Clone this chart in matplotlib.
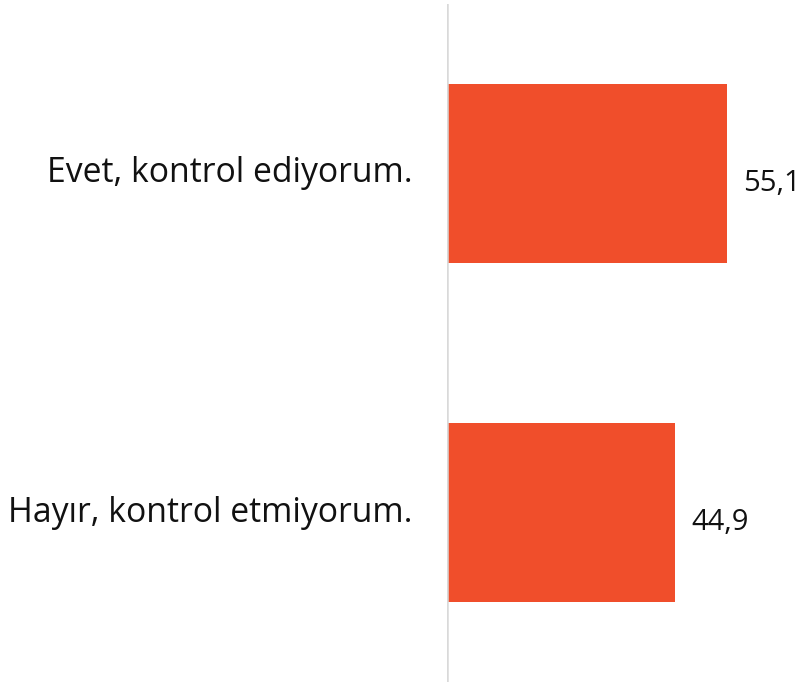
import matplotlib.pyplot as plt

categories = ['Evet, kontrol ediyorum.', 'Hayır, kontrol etmiyorum.']
values = [55.1, 44.9]
value_labels = ['55,1', '44,9']

plt.rcParams['font.family'] = ['Open Sans', 'DejaVu Sans']

fig = plt.figure(figsize=(8.05, 6.84), dpi=100)
ax = fig.add_axes([447 / 805, 2 / 684, 358 / 805, 678 / 684])

y = range(len(categories))
ax.barh(y, values, height=0.53, color='#F04E2B')
ax.set_xlim(0, 358 / 5.08)
ax.set_ylim(1.5, -0.5)

ax.axvline(0, color='#d9d9d9', linewidth=1.8)
for s in ax.spines.values():
    s.set_visible(False)
ax.set_xticks([])
ax.set_yticks([])

for i, (v, lab) in enumerate(zip(values, value_labels)):
    ax.text(v + 3.2, i + 0.03, lab, va='center', ha='left', fontsize=21, color='#111111')

for i, cat in enumerate(categories):
    ax.text(-6.7, i, cat, va='center', ha='right', fontsize=24.3, color='#111111', clip_on=False)

fig.savefig('out.png', dpi=100)
